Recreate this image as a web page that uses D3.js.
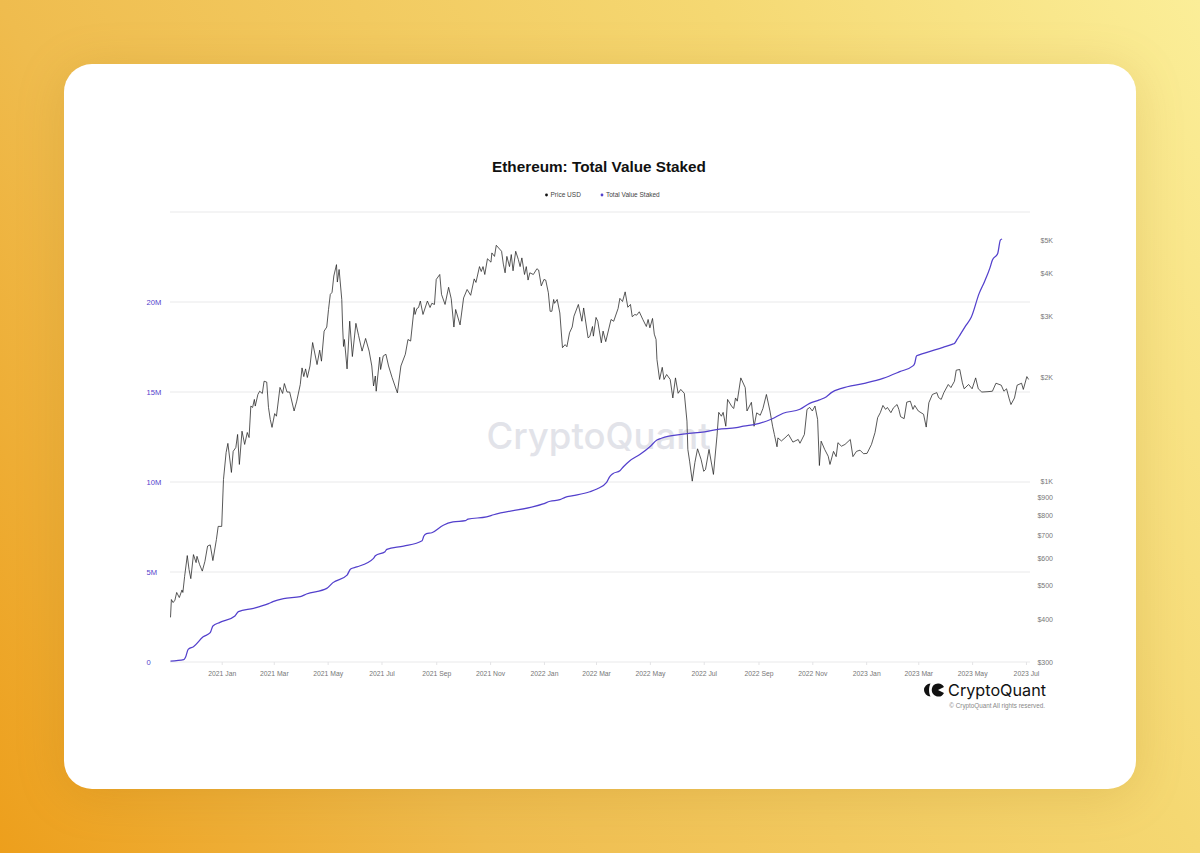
<!DOCTYPE html>
<html>
<head>
<meta charset="utf-8">
<title>Ethereum: Total Value Staked</title>
<script src="https://d3js.org/d3.v7.min.js"></script>
<style>
  html, body { margin: 0; padding: 0; }
  body {
    width: 1200px; height: 853px; overflow: hidden;
    background: linear-gradient(60deg, #ed9f1c 0%, #efbc4e 29%, #f5d872 71%, #fbee98 100%);
  }
  svg { display: block; font-family: "Liberation Sans", Arial, sans-serif; }
  .domain { display: none; }
</style>
</head>
<body>
<svg id="chart" width="1200" height="853"></svg>
<script>
// Days counted from 2021-01-01
var priceDays = [-58,-57,-55,-53,-51,-48,-45,-44,-42,-39,-37,-35,-32,-29,-28,-25,-22,-19,-16,-13,-10,-6,-4,0,2,5,7,11,13,16,18,20,23,26,29,31,33,35,37,38,41,43,46,48,51,53,55,57,60,62,66,69,71,74,77,82,85,89,91,93,95,97,100,103,108,111,113,116,119,121,123,125,127,130,131,133,136,137,138,139,142,145,148,152,155,159,163,167,170,172,174,175,179,180,183,186,189,193,199,203,208,211,214,218,219,221,223,225,228,233,236,238,241,243,247,249,253,257,260,263,265,270,274,278,282,286,288,292,294,296,298,301,305,306,309,311,317,319,321,323,326,328,330,333,336,338,340,343,345,347,349,353,357,359,362,365,367,370,372,374,376,377,380,383,386,389,391,394,397,399,404,408,410,415,417,420,421,424,426,430,432,435,441,444,449,451,454,457,460,463,465,468,470,473,477,481,483,485,488,490,492,493,496,499,501,504,508,511,514,517,520,524,527,528,530,533,536,539,543,546,548,552,557,561,563,566,568,571,573,578,580,582,584,588,593,595,600,603,606,610,613,617,621,624,626,629,630,634,638,642,647,653,655,660,663,666,669,672,675,677,679,683,687,689,693,696,698,702,706,712,715,719,723,727,731,736,740,743,746,749,752,754,758,761,765,767,769,773,776,780,783,785,789,795,798,801,805,810,812,815,818,823,826,830,832,836,839,841,846,850,854,857,861,868,873,877,883,886,889,892,894,898,901,906,908,912,914];
var priceValues = [404,455,446,453,477,461,485,477,531,610,556,523,614,582,607,574,550,587,650,655,590,679,741,741,1013,1213,1289,1062,1222,1254,1368,1120,1398,1280,1386,1340,1653,1638,1728,1653,1786,1825,1798,1951,1940,1638,1512,1434,1572,1545,1872,1798,1921,1815,1815,1600,1708,1909,2132,2012,2118,2000,2160,2525,2180,2400,2230,2725,2800,3148,3480,3530,3935,4245,3780,4110,3365,2800,2460,2577,2118,2912,2300,2870,2650,2385,2595,2385,2160,1890,2020,1825,2290,2110,2310,2335,2160,2000,1805,2160,2335,2577,2550,3190,3045,3165,3190,3330,3045,3330,3190,3280,3255,3845,3975,3480,3255,3650,3380,2800,3148,2840,3400,3597,3460,3860,3770,4190,4055,4190,3975,4415,4315,4590,4485,4830,4640,4260,4020,4485,4190,4540,4075,4640,4393,4190,4440,3975,4190,3830,4020,3975,4130,4095,3685,3845,3830,3520,3110,3110,3365,3280,3365,3075,2440,2490,2455,2695,2800,3010,3255,2910,3180,2605,2630,2810,2635,2985,2910,2520,2725,2540,2945,2910,3170,3390,3320,3540,3195,3255,3000,3045,3030,3100,2945,2810,2945,2785,2965,2670,2577,2256,1974,2140,1974,2040,1974,1745,1995,1800,1847,1800,1495,1238,1145,1002,1135,1243,1158,1070,1083,1238,1048,1353,1585,1545,1585,1445,1728,1645,1627,1745,1708,1995,1870,1600,1695,1445,1580,1555,1625,1786,1600,1445,1368,1260,1337,1310,1337,1368,1300,1323,1290,1368,1617,1638,1600,1653,1512,1112,1308,1238,1183,1120,1222,1180,1295,1265,1280,1323,1180,1222,1232,1203,1206,1280,1385,1530,1582,1660,1617,1638,1582,1635,1670,1617,1540,1520,1697,1708,1617,1660,1600,1565,1437,1690,1786,1808,1750,1728,1808,1909,1870,1951,2100,2110,1930,1855,1909,1855,1995,1855,1815,1820,1825,1925,1900,1825,1855,1735,1670,1745,1900,1925,1847,2012,1974];

var stakedDays = [-58,-43,-41,-38,-32,-21,-13,-10,-2,15,19,36,53,58,70,89,96,119,126,142,146,153,172,174,185,187,206,227,229,232,238,251,262,276,279,300,308,364,372,383,389,398,417,425,436,439,443,451,455,462,474,485,493,498,525,547,562,583,591,604,609,623,636,655,666,677,685,691,702,728,749,768,783,785,787,790,817,828,830,833,836,843,849,858,864,870,873,879,882,884];
var stakedValues = [0.05,0.13,0.26,0.70,0.85,1.40,1.63,2.0,2.2,2.56,2.8,2.98,3.24,3.35,3.52,3.63,3.78,4.09,4.41,4.83,5.17,5.28,5.76,5.9,6.13,6.26,6.44,6.74,7.0,7.13,7.18,7.6,7.78,7.85,7.94,8.06,8.18,8.78,8.93,9.02,9.15,9.24,9.46,9.61,9.98,10.26,10.46,10.63,10.85,11.17,11.54,11.96,12.33,12.43,12.67,12.79,12.93,13.02,13.11,13.2,13.26,13.5,13.82,14.04,14.37,14.56,14.74,14.98,15.2,15.48,15.76,16.13,16.45,16.6,17.0,17.06,17.48,17.66,17.7,17.92,18.15,18.7,19.15,20.48,21.13,21.87,22.33,22.7,23.44,23.5];

// Axis labels
var leftTicks = [0, 5, 10, 15, 20];
var rightTicks = [300, 400, 500, 600, 700, 800, 900, 1000, 2000, 3000, 4000, 5000];
var monthTicks = ["2021-01-01","2021-03-01","2021-05-01","2021-07-01","2021-09-01","2021-11-01","2022-01-01","2022-03-01","2022-05-01","2022-07-01","2022-09-01","2022-11-01","2023-01-01","2023-03-01","2023-05-01","2023-07-01"];

var blue = "#5340cc";
var parseDay = d3.utcParse("%Y-%m-%d");
var baseDay = parseDay("2021-01-01");
var dayToDate = d => d3.utcDay.offset(baseDay, d);

var svg = d3.select("#chart");

// White card
svg.append("rect")
  .attr("x", 64).attr("y", 64)
  .attr("width", 1072).attr("height", 725)
  .attr("rx", 28)
  .attr("fill", "#fff")
  .style("filter", "drop-shadow(0 6px 24px rgba(150,95,0,0.16))");

// Scales
var x = d3.scaleUtc()
  .domain([parseDay("2020-11-04"), parseDay("2023-07-05")])
  .range([170.5, 1029.5]);
var yLeft = d3.scaleLinear().domain([0, 25]).range([662, 212]);
var yRight = d3.scaleLog().domain([300, 6030]).range([662, 212]);

// Title
svg.append("text")
  .attr("x", 599).attr("y", 171.5)
  .attr("text-anchor", "middle")
  .attr("font-size", 15.3).attr("font-weight", "bold")
  .attr("fill", "#111")
  .text("Ethereum: Total Value Staked");

// Legend
var legend = [
  { name: "Price USD", color: "#111", cx: 546.5 },
  { name: "Total Value Staked", color: blue, cx: 602 }
];
legend.forEach(function(item) {
  svg.append("circle").attr("cx", item.cx).attr("cy", 195).attr("r", 1.4).attr("fill", item.color);
  svg.append("text").attr("x", item.cx + 4).attr("y", 197)
    .attr("font-size", 6.5).attr("fill", "#444").text(item.name);
});

// Gridlines
svg.append("g")
  .selectAll("line")
  .data([0, 5, 10, 15, 20, 25])
  .join("line")
  .attr("x1", 170).attr("x2", 1030)
  .attr("y1", d => yLeft(d)).attr("y2", d => yLeft(d))
  .attr("stroke", "#e6e6e8").attr("stroke-width", 0.9);

// Watermark sits under the lines
svg.append("text")
  .attr("x", 598.5).attr("y", 449)
  .attr("text-anchor", "middle")
  .attr("font-family", "Inter, sans-serif")
  .attr("font-size", 36.5).attr("font-weight", 500)
  .attr("fill", "#e2e3e9")
  .text("CryptoQuant");

// Axes
var xAxis = svg.append("g")
  .attr("transform", "translate(0,662)")
  .call(d3.axisBottom(x)
    .tickValues(monthTicks.map(parseDay))
    .tickSize(3)
    .tickFormat(d3.utcFormat("%Y %b")));
xAxis.selectAll("line").attr("stroke", "#e4e4e6");
xAxis.selectAll("text").attr("y", 9).attr("font-size", 6.8).attr("fill", "#777");

var leftAxis = svg.append("g")
  .attr("transform", "translate(146.5,0)")
  .call(d3.axisLeft(yLeft)
    .tickValues(leftTicks)
    .tickSize(0)
    .tickFormat(d => d === 0 ? "0" : d + "M"));
leftAxis.selectAll("text")
  .attr("x", 0).attr("text-anchor", "start")
  .attr("font-size", 7.6).attr("fill", blue);

var rightAxis = svg.append("g")
  .attr("transform", "translate(1053,0)")
  .call(d3.axisRight(yRight)
    .tickValues(rightTicks)
    .tickSize(0)
    .tickFormat(d => d >= 1000 ? "$" + d / 1000 + "K" : "$" + d));
rightAxis.selectAll("text")
  .attr("x", 0).attr("text-anchor", "end")
  .attr("font-size", 7).attr("fill", "#777");

// Lines
var priceLine = d3.line()
  .x((d, i) => x(dayToDate(priceDays[i])))
  .y(d => yRight(d));
var stakedLine = d3.line()
  .x((d, i) => x(dayToDate(stakedDays[i])))
  .y(d => yLeft(d))
  .curve(d3.curveMonotoneX);

svg.append("path").datum(priceValues)
  .attr("d", priceLine)
  .attr("fill", "none").attr("stroke", "#222").attr("stroke-width", 0.75);
svg.append("path").datum(stakedValues)
  .attr("d", stakedLine)
  .attr("fill", "none").attr("stroke", blue).attr("stroke-width", 1.25);

// Logo and copyright, bottom right
var logo = svg.append("g").attr("transform", "translate(923,683.5)").attr("fill", "#111");
logo.append("path").attr("d", "M7.5,0 A6.5,6.5 0 0 0 7.5,13 C5.6,9.5 5.6,3.5 7.5,0 Z");
logo.append("path").attr("d", "M15,0 A6.5,6.5 0 1 0 21,9.5 L15,6.5 L21,3.5 A6.5,6.5 0 0 0 15,0 Z");
svg.append("text")
  .attr("x", 1046).attr("y", 696)
  .attr("text-anchor", "end")
  .attr("font-family", "Inter, sans-serif")
  .attr("font-size", 16.2).attr("fill", "#111")
  .text("CryptoQuant");
svg.append("text")
  .attr("x", 1045).attr("y", 708)
  .attr("text-anchor", "end")
  .attr("font-size", 6.3).attr("fill", "#888")
  .text("© CryptoQuant All rights reserved.");
</script>
</body>
</html>
